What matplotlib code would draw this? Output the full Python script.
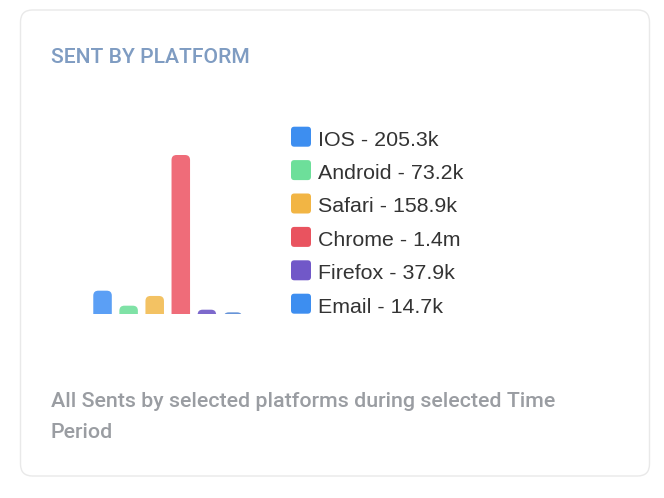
import matplotlib
matplotlib.use('Agg')
import matplotlib.pyplot as plt
from matplotlib.patches import FancyBboxPatch

plt.rcParams['font.family'] = ['Roboto', 'DejaVu Sans']

# data
platforms = ['IOS', 'Android', 'Safari', 'Chrome', 'Firefox', 'Email']
sents = [205.3e3, 73.2e3, 158.9e3, 1.4e6, 37.9e3, 14.7e3]
legend_colors = ['#3d8ef0', '#6ddf9a', '#f2b544', '#e9535f', '#7158c8', '#3d8ef0']
bar_colors = ['#5b9ff5', '#7fe2a6', '#f3c263', '#ef6c79', '#7d69cc', '#6794d8']

title = 'SENT BY PLATFORM'
footer = ['All Sents by selected platforms during selected Time', 'Period']


def fmt(v):
    if v >= 1e6:
        return '%.1fm' % (v / 1e6)
    return '%.1fk' % (v / 1e3)


W, H = 664, 498
fig = plt.figure(figsize=(W / 100, H / 100), dpi=100)
fig.patch.set_facecolor('white')

# pixel coords, y from top
def px(x, y):
    return x / W, 1 - y / H

card = FancyBboxPatch((20.5 / W, 1 - 476 / H), 629 / W, 466 / H,
                      boxstyle='round,pad=0,rounding_size=0.018',
                      mutation_aspect=W / H,
                      transform=fig.transFigure, facecolor='white',
                      edgecolor='#e9e9e9', linewidth=1, zorder=-5)
fig.patches.append(card)

fig.text(*px(51, 63), title, color='#7f9cc2', fontsize=15.2,
         fontweight='medium', va='baseline', ha='left')

# bars
left, right = 89.5, 246
top, bottom = 155, 314
ax = fig.add_axes([left / W, 1 - bottom / H, (right - left) / W, (bottom - top) / H])
ax.patch.set_alpha(0)
xs = range(len(platforms))
bars = ax.bar(xs, [v / 1e6 for v in sents], width=0.71, color=bar_colors)
ax.set_xlim(-0.5, len(platforms) - 0.5)
ax.set_ylim(0, 1.4)
ax.axis('off')

# round the top corners of every bar
xpx = (right - left) / len(platforms)
ypx = (bottom - top) / 1.4
aspect = xpx / ypx
r = 5 / xpx
for b in bars:
    b.set_visible(False)
    extra = r * aspect
    p = FancyBboxPatch((b.get_x(), -extra), b.get_width(), b.get_height() + extra,
                       boxstyle='round,pad=0,rounding_size=%f' % r,
                       mutation_aspect=aspect, facecolor=b.get_facecolor(),
                       edgecolor='none', clip_on=True)
    ax.add_patch(p)

# legend
for i, (name, v, c) in enumerate(zip(platforms, sents, legend_colors)):
    y0 = 126.7 + 33.4 * i
    sq = FancyBboxPatch((291 / W, 1 - (y0 + 20) / H), 20 / W, 20 / H,
                        boxstyle='round,pad=0,rounding_size=0.005',
                        mutation_aspect=W / H,
                        transform=fig.transFigure, facecolor=c, edgecolor='none')
    fig.patches.append(sq)
    fig.text(*px(318, y0 + 19), '%s - %s' % (name, fmt(v)), color='#333333',
             fontsize=15.4, family=['Liberation Sans', 'DejaVu Sans'],
             va='baseline', ha='left')

for k, line in enumerate(footer):
    fig.text(*px(51, 407 + 31 * k), line, color='#9a9da2', fontsize=15.4,
             fontweight='medium', va='baseline', ha='left')

fig.savefig('out.png', dpi=100)
